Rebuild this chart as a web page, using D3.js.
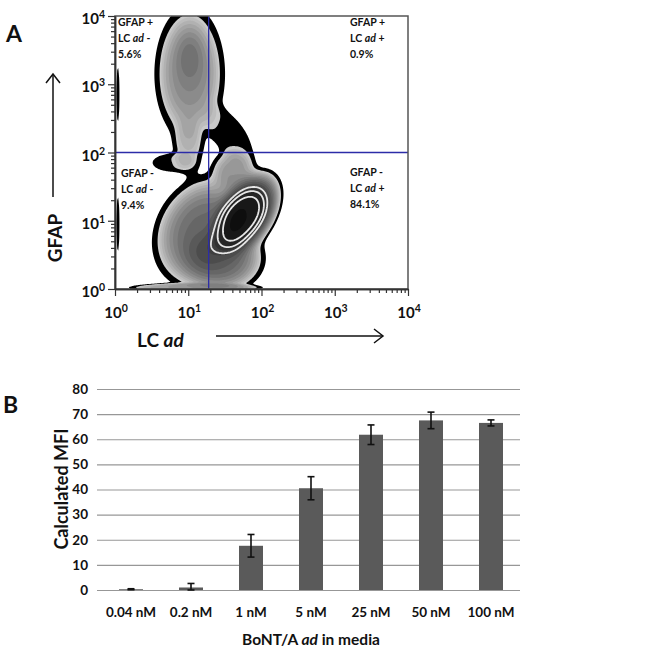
<!DOCTYPE html>
<html>
<head>
<meta charset="utf-8">
<script src="https://cdn.jsdelivr.net/npm/d3@7"></script>
<style>
  body { margin: 0; background: #fff; }
  svg { display: block; }
  text { font-family: Lato, "Open Sans", sans-serif; fill: #111; font-weight: bold; }
</style>
</head>
<body>
<svg id="chart" width="650" height="652"></svg>
<script>
// ---- Panel A: flow cytometry populations, in log10 units ----
// [log LC ad, log GFAP, spread x, spread y, tilt, peak, edge sharpness]
const gfapPosCells = [
  [1.02, 3.15, 0.30, 0.62, 0.0, 8, 1.5],
  [1.00, 2.10, 0.15, 0.30, 0.0, 3, 1.5],
  [1.02, 3.40, 0.12, 0.25, 0.0, 5, 1.0]
];
const ladPosCells = [
  [1.76, 1.08, 0.28, 0.36, 0.45, 60, 1.6],
  [1.20, 0.85, 0.40, 0.48, 0.2, 14, 1.5],
  [1.62, 1.72, 0.20, 0.22, 0.0, 6, 1.5],
  [1.45, 0.45, 0.35, 0.30, 0.0, 14, 1.5]
];
const bridgeCells = [
  [1.56, 2.26, 0.30, 0.38, -0.6, 1.7, 2.5],
  [0.78, 1.85, 0.25, 0.12, 0.0, 1.9, 2.0]
];
const edgeCells = [
  [1.10, 0.02, 0.75, 0.06, 0.0, 5, 3.0],
  [0.04, 2.85, 0.02, 0.38, 0.0, 1.8, 2.0],
  [0.04, 0.95, 0.02, 0.38, 0.0, 1.8, 2.0]
];
const decades = [0, 1, 2, 3, 4];
const gateLad = 19;
const gateGfap = 100;
const quadrants = [
  { gfap: "+", lad: "-", pct: "5.6%", corner: "tl" },
  { gfap: "+", lad: "+", pct: "0.9%", corner: "tr" },
  { gfap: "-", lad: "-", pct: "9.4%", corner: "bl" },
  { gfap: "-", lad: "+", pct: "84.1%", corner: "br" }
];

// ---- Panel B: MFI vs toxin concentration ----
const concentrations = ["0.04 nM", "0.2 nM", "1 nM", "5 nM", "25 nM", "50 nM", "100 nM"];
const mfi = [0.3, 1.0, 17.6, 40.5, 61.8, 67.5, 66.5];
const mfiErr = [0.2, 1.6, 4.5, 4.6, 3.9, 3.3, 1.2];
const mfiTicks = [0, 10, 20, 30, 40, 50, 60, 70, 80];

const svg = d3.select("#chart");

// ================= Panel A =================
const xA = d3.scaleLog().domain([1, 1e4]).range([115, 408]);
const yA = d3.scaleLog().domain([1, 1e4]).range([289, 16]);

const pops = [...gfapPosCells, ...ladPosCells, ...bridgeCells, ...edgeCells];
function density(lx, ly) {
  let s = 0;
  for (const [cx, cy, sx, sy, r, w, p] of pops) {
    const dx = (lx - cx) / sx, dy = (ly - cy) / sy;
    const d2 = (dx * dx - 2 * r * dx * dy + dy * dy) / (1 - r * r);
    s += w * Math.exp(-0.5 * Math.pow(d2, p));
  }
  return s;
}

const n = 320, m = 320;
const grid = new Float64Array(n * m);
for (let j = 0; j < m; j++) {
  for (let i = 0; i < n; i++) {
    grid[i + j * n] = density((i + 0.5) / n * 4, 4 - (j + 0.5) / m * 4);
  }
}

const levels = [1, 2.2];
for (let k = 1; k <= 15; k++) levels.push(2.2 * Math.pow(1.25, k));
const ringLevels = [28, 38, 50];

const toPlot = d3.geoTransform({
  point(gx, gy) {
    this.stream.point(xA(Math.pow(10, gx / n * 4)), yA(Math.pow(10, 4 - gy / m * 4)));
  }
});
const path = d3.geoPath(toPlot);
const shade = d3.scaleLog().domain([2.2, 13, 60]).range(["#cacaca", "#666", "#0e0e0e"]).clamp(true);

svg.append("clipPath").attr("id", "clipA")
  .append("rect").attr("x", 115).attr("y", 16).attr("width", 293).attr("height", 273);

const gA = svg.append("g").attr("clip-path", "url(#clipA)");
gA.selectAll("path.band")
  .data(d3.contours().size([n, m]).thresholds(levels)(grid))
  .join("path")
  .attr("class", "band")
  .attr("d", path)
  .attr("fill", (d, i) => i === 0 ? "#000" : shade(d.value));

gA.selectAll("path.ring")
  .data(d3.contours().size([n, m]).thresholds(ringLevels)(grid))
  .join("path")
  .attr("class", "ring")
  .attr("d", path)
  .attr("fill", "none")
  .attr("stroke", "#e6e6e6")
  .attr("stroke-width", 1.8);

// gates
svg.append("line")
  .attr("x1", xA(gateLad)).attr("x2", xA(gateLad))
  .attr("y1", yA(1)).attr("y2", yA(1e4))
  .attr("stroke", "#2c2ca8").attr("stroke-width", 1.3);
svg.append("line")
  .attr("x1", xA(1)).attr("x2", xA(1e4))
  .attr("y1", yA(gateGfap)).attr("y2", yA(gateGfap))
  .attr("stroke", "#2c2ca8").attr("stroke-width", 1.3);

// frame
svg.append("rect")
  .attr("x", 115).attr("y", 16).attr("width", 293).attr("height", 273)
  .attr("fill", "none").attr("stroke", "#555").attr("stroke-width", 1.5);

const majors = decades.map(k => Math.pow(10, k));
const minors = [];
decades.slice(0, -1).forEach(k => { for (let t = 2; t < 10; t++) minors.push(t * Math.pow(10, k)); });

function styleAxis(g) {
  g.select(".domain").attr("stroke", "#333").attr("stroke-width", 1.5);
  g.selectAll(".tick line").attr("stroke", "#333").attr("stroke-width", 1.2);
}
svg.append("g").attr("transform", "translate(0,289)")
  .call(d3.axisBottom(xA).tickValues(minors).tickSize(4).tickSizeOuter(0).tickFormat(""))
  .call(styleAxis);
svg.append("g").attr("transform", "translate(0,289)")
  .call(d3.axisBottom(xA).tickValues(majors).tickSize(7).tickSizeOuter(0).tickFormat(""))
  .call(styleAxis);
svg.append("g").attr("transform", "translate(115,0)")
  .call(d3.axisLeft(yA).tickValues(minors).tickSize(4).tickSizeOuter(0).tickFormat(""))
  .call(styleAxis);
svg.append("g").attr("transform", "translate(115,0)")
  .call(d3.axisLeft(yA).tickValues(majors).tickSize(7).tickSizeOuter(0).tickFormat(""))
  .call(styleAxis);

function powLabel(sel) {
  sel.attr("font-size", 15)
    .text("10")
    .append("tspan").attr("dy", -6).attr("font-size", 10.5).text(d => d);
}
svg.selectAll("text.xa").data(decades).join("text")
  .attr("class", "xa")
  .attr("x", d => xA(Math.pow(10, d)) + 1).attr("y", 318)
  .attr("text-anchor", "middle")
  .call(powLabel);
svg.selectAll("text.ya").data(decades).join("text")
  .attr("class", "ya")
  .attr("x", 105).attr("y", d => yA(Math.pow(10, d)) + 8)
  .attr("text-anchor", "end")
  .call(powLabel);

// quadrant labels
const qPos = {
  tl: [118, 26], tr: [350, 26], bl: [121, 177], br: [350, 176]
};
quadrants.forEach(q => {
  const [x, y] = qPos[q.corner];
  const t = svg.append("text").attr("font-size", 10.5);
  t.append("tspan").attr("x", x).attr("y", y).text("GFAP " + q.gfap);
  t.append("tspan").attr("x", x).attr("y", y + 16).text("LC ");
  t.append("tspan").attr("font-style", "italic").text("ad");
  t.append("tspan").text(" " + q.lad);
  t.append("tspan").attr("x", x).attr("y", y + 32).text(q.pct);
});

// axis titles and arrows
svg.append("text")
  .attr("transform", "translate(62,238) rotate(-90)")
  .attr("text-anchor", "middle").attr("font-size", 19)
  .text("GFAP");
const lcT = svg.append("text").attr("x", 137).attr("y", 347).attr("font-size", 19);
lcT.append("tspan").text("LC ");
lcT.append("tspan").attr("font-style", "italic").text("ad");

const arrow = svg.append("g").attr("stroke", "#111").attr("stroke-width", 1.5).attr("fill", "none");
arrow.append("line").attr("x1", 53).attr("y1", 197).attr("x2", 53).attr("y2", 74);
arrow.append("path").attr("d", "M46,83 L53,74 L60,83");
arrow.append("line").attr("x1", 216).attr("y1", 336).attr("x2", 383).attr("y2", 336);
arrow.append("path").attr("d", "M374,329 L383,336 L374,343");

svg.append("text").attr("x", 6).attr("y", 42).attr("font-size", 23).text("A");

// ================= Panel B =================
svg.append("text").attr("x", 3).attr("y", 413).attr("font-size", 23).text("B");

const xB = d3.scaleBand().domain(concentrations).range([101, 521]).paddingInner(0.6).paddingOuter(0.3);
const yB = d3.scaleLinear().domain([0, 80]).range([590, 389]);

svg.append("g")
  .call(d3.axisLeft(yB).tickValues(mfiTicks).tickSize(-423).tickFormat(""))
  .attr("transform", "translate(97,0)")
  .call(g => g.select(".domain").remove())
  .call(g => g.selectAll(".tick line").attr("stroke", "#979797").attr("stroke-width", 1.2));

svg.selectAll("text.yb").data(mfiTicks).join("text")
  .attr("class", "yb")
  .attr("x", 88).attr("y", d => yB(d)).attr("dy", "0.36em")
  .attr("text-anchor", "end").attr("font-size", 13.5)
  .text(d => d);

svg.selectAll("rect.bar").data(mfi).join("rect")
  .attr("class", "bar")
  .attr("x", (d, i) => xB(concentrations[i]))
  .attr("width", xB.bandwidth())
  .attr("y", d => yB(d))
  .attr("height", d => yB(0) - yB(d))
  .attr("fill", "#5a5a5a");

const eb = svg.append("g").attr("stroke", "#111").attr("stroke-width", 1.6);
mfi.forEach((v, i) => {
  const cx = xB(concentrations[i]) + xB.bandwidth() / 2;
  const lo = yB(Math.max(0, v - mfiErr[i])), hi = yB(v + mfiErr[i]);
  eb.append("line").attr("x1", cx).attr("x2", cx).attr("y1", lo).attr("y2", hi);
  eb.append("line").attr("x1", cx - 3.5).attr("x2", cx + 3.5).attr("y1", lo).attr("y2", lo);
  eb.append("line").attr("x1", cx - 3.5).attr("x2", cx + 3.5).attr("y1", hi).attr("y2", hi);
});

svg.selectAll("text.xb").data(concentrations).join("text")
  .attr("class", "xb")
  .attr("x", d => xB(d) + xB.bandwidth() / 2).attr("y", 617)
  .attr("text-anchor", "middle").attr("font-size", 13.5)
  .text(d => d);

const bt = svg.append("text").attr("x", 311).attr("y", 645)
  .attr("text-anchor", "middle").attr("font-size", 15.5);
bt.append("tspan").text("BoNT/A ");
bt.append("tspan").attr("font-style", "italic").text("ad");
bt.append("tspan").text(" in media");

svg.append("text")
  .attr("transform", "translate(68,489) rotate(-90)")
  .attr("text-anchor", "middle").attr("font-size", 18)
  .text("Calculated MFI");
</script>
</body>
</html>
